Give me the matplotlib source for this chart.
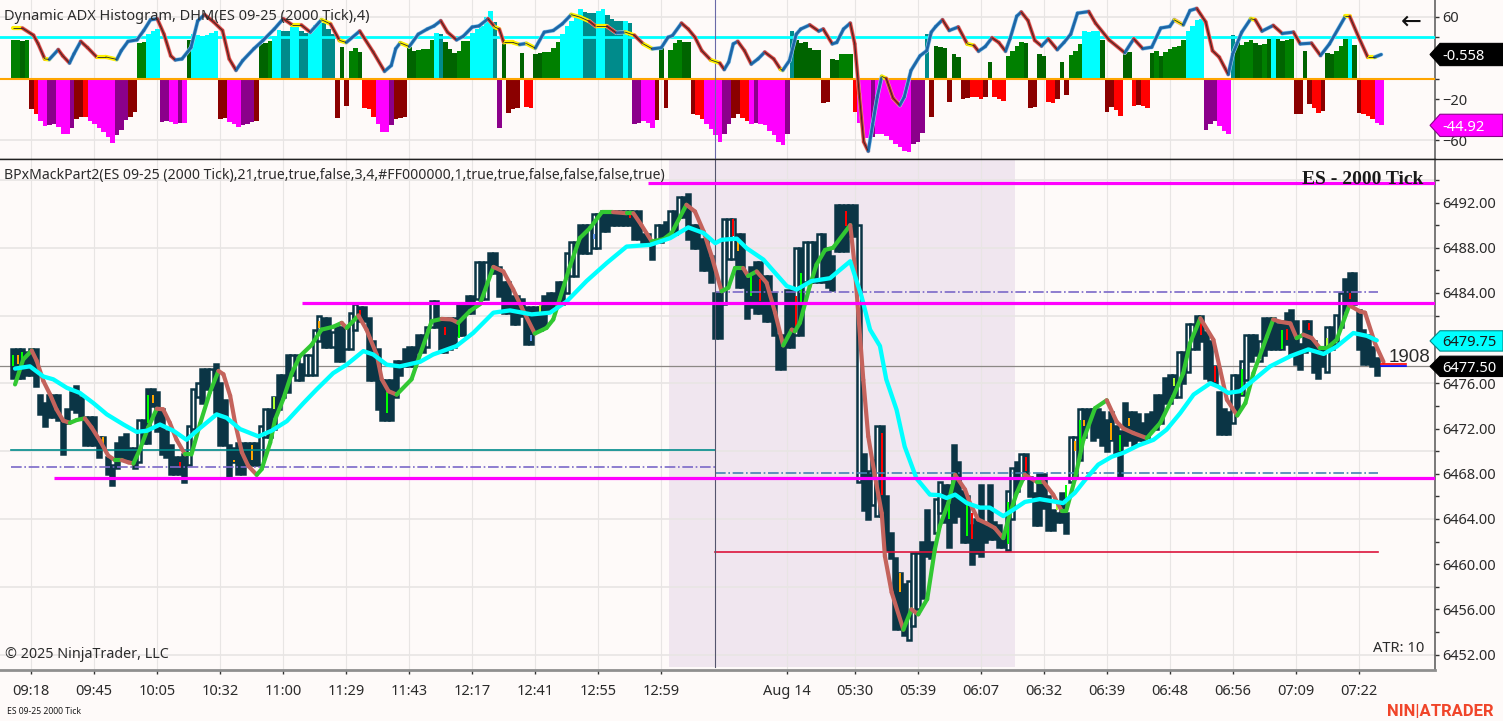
import numpy as np
import matplotlib
matplotlib.use("Agg")
import matplotlib.pyplot as plt
from matplotlib.collections import LineCollection
from matplotlib.patches import Polygon
from matplotlib.transforms import blended_transform_factory
from matplotlib.ticker import FixedLocator, NullFormatter

W, H = 1503, 721
BG = "#FEFAF9"
GRID = "#E8E5E4"
AXIS = "#8F8F8F"
TXT = "#2B2B2B"
plt.rcParams["font.family"] = ["Noto Sans", "DejaVu Sans"]

# upper panel: histogram, one value and one colour code per bar
hist_vals = [
    37.5, 37.5, 36.5, 37, -29.5, -34, -41, -46.5, -45.5, -44.5,
    -47, -54, -54, -48.5, -39, -37, -37.5, -41, -44, -48.5,
    -52, -57, -62.5, -55, -50, -40, -37, -32.5, 34, 35.5,
    43, 46.5, 48, -42, -41.5, -42, -44, -43, -43, 37.5,
    43, 42.5, 41.5, 42.5, 44, 46, -39, -38, -42, -44,
    -47, -45.5, -44, -42, -41, 33.5, 34.5, 36, 41.5, 47,
    46, 46, 50, 50.5, 46, 44, 48, 52, 56, 54,
    48, 43, -38, 31, -27, 27, 30, 26, -28.5, -30,
    -37, -44.5, -51.5, -52, -45, -39, -38, -37.5, 31, 27,
    28, 28.5, 29, 37.5, 44.5, 43, 35, 28.5, 25, 27,
    36, 36, 44, 48, 51, 60, 66, 55, -48.5, 35,
    -33.5, -29.5, -29, 25, -28, -29, 24, 24.5, 25.5, 26,
    30, 35, 43, 51, 56, 62, 67, 65, 64, 64,
    66, 67, 62, 58, 56, 56, 56, 54, -44.5, -43,
    -41, -43, -48, -40, 29.5, -29, 28, 34.5, 37, 35,
    35, -34, -35, -39, -44.5, -49.5, -54.5, -61.5, -53.5, -44.5,
    -38, -34, -38, -41, -44.5, -43, -44.5, -45.5, -50.5, -55,
    -62, -65, -53.5, 46, 37, 34.5, 35, 29.5, 28, 28,
    -24, -22.5, 18.5, 17.5, 24, 24, 24, -32.5, -43, -57.5,
    -57.5, -57, -53.5, -54, -56, -60, -63.5, -66.5, -70, -71,
    -64, -62, -53, 43, -37, 32, 31, 29.5, -23, 24,
    21, -20, -19, -17.5, -18, -20, -18, 16.5, -18, -20,
    -22, 21.5, 27, 32, 35, 34.5, -29, -28, 23.5, 21.5,
    -22.5, -23.5, -20, 16, -16.5, 22.5, 27, 33.5, 46, 45.5,
    46, 46.5, 37.5, -32.5, -28, -31, -36.5, 25.5, 25.5, -27,
    -25.5, -27, -29, 25, 27, 21.5, 25.5, 28.5, 30.5, 32,
    37.5, 46, 51, 57, 58, -50, -44.5, -41.5, -46.5, -51,
    -53.5, 42.5, 35, 32.5, 35, 37, 34.5, 33, 33.5, 38,
    41, 38, 36, 37.5, 38, -34, -34, 27, -24.5, -29,
    -33.5, -31.5, 25, 24, 27, 32, 38, 38.5, 33, -33.5,
    -34, -36.5, -39, -43, -45.5,
]
hist_codes = (
    "ggGgDRMMPP" "MMMPDDRMMM" "MMMPPPDDgg" "CCCPPMMPMG" "CCCCCCDDMM"
    "MPPPDGGgCC" "TTCCTTCCCT" "TTDGDggGRR" "RMMMPDDDGG" "ggggCTGGGg"
    "ggCCCCCTPG" "DDDGRRGGgg" "ggCCCCCTTT" "CCTTTTCTPP" "MMMDGDgggG"
    "GDRRMMMMPP" "DDRRMPMMMM" "MMPTGGGGGG" "DDGGgggRMM" "MPMMMMMMMM"
    "PPPTDGGGDG" "GDDRRRDGRR" "RggggGDDGG" "RRDGDgggCC" "CCGDDRRGGR"
    "DRRGgGgggg" "gCCCCPPPMM" "MTGgggGGgG" "CGGggDDGDR" "RDGGgggCGD"
    "RRRMM"
)
hist_palette = {"g": "#008000", "G": "#006400", "C": "#00FFFF", "T": "#008B8B",
                "R": "#FF0000", "D": "#8B0000", "M": "#FF00FF", "P": "#8B008B"}

# upper panel: signal line read at its turning points
adx_bars = [
    0, 2, 4.5, 5.5, 7, 8, 10, 11, 12.5, 13.5, 15, 16.5, 18.5, 20.5, 23, 24, 25.5, 27.5, 29, 30.5,
    32, 33.5, 35, 36, 37.5, 39.5, 41, 42.5, 44.5, 46.5, 48, 49.5, 51, 53.5, 55.5, 58, 60, 62, 64, 66,
    68.5, 70.5, 72.5, 74, 77, 80, 82.5, 84, 85, 86, 88, 90, 92, 93.5, 95, 96.5, 98.5, 100, 102, 103.5,
    105.5, 107, 108, 109, 111, 112.5, 114, 116, 118, 120, 122, 124, 126, 128, 129.5, 132, 134, 136, 138, 140,
    142, 144, 145.5, 146.5, 148.5, 150, 151.5, 153, 155, 157, 158, 159, 160, 161, 162.5, 164, 165.5, 167, 169, 170.5,
    171, 172.5, 174, 175, 177, 179, 180, 182, 183, 184.5, 186, 187, 188, 189, 190, 191, 192, 193, 194, 195.5,
    197, 198, 199.5, 201.5, 203, 204, 205, 206.5, 208, 210, 212, 213.5, 214.5, 216, 217.5, 219, 220.5, 221.5, 223, 224,
    225.5, 227, 228.5, 230, 232, 233.5, 235, 236.5, 239, 240.5, 243.5, 247, 249, 251, 253, 255, 257, 258, 260, 261.5,
    263, 265, 266.5, 268, 270, 271, 273, 275, 276, 277.5, 280, 282, 284.5, 286, 288.5, 290.5, 292.5, 296, 297, 299,
    301, 302.5, 304,
]
adx_vals = [
    49, 49, 42, 34, 19, 18.5, 28, 22, 15, 24, 36, 30, 21, 21, 18.5, 27, 36, 37.5, 46.6, 57,
    58, 43, 22, 18, 19, 30, 56, 62, 55, 46.6, 19, 8, 17.5, 29, 37, 48, 58, 52, 52, 45,
    57, 53, 37, 35, 46, 25.6, 7, 12.6, 29, 34.6, 31, 43, 48, 51, 56, 45, 37.5, 41, 50, 51,
    58, 50, 48, 35, 35, 33, 34, 29.5, 45, 46.6, 53, 62, 59.5, 55.6, 50.5, 50.5, 44.3, 45, 42, 33.6,
    28.8, 29.8, 40, 41.7, 53.7, 48, 40, 27, 18, 15, 8.7, 16, 33.6, 36, 27, 14, 19, 25.6, 19, 9,
    8, 17.5, 43, 48, 52, 46, 48, 33.6, 35, 48, 53.7, 33.6, -15, -61.5, -70.5, -44, -18, 2, 0, -19,
    -26, -18, 7.8, 22, 27, 45, 50.5, 57, 46.6, 50, 33.6, 32, 26.5, 31, 39.5, 35, 26.5, 38.5, 60.5, 64.5,
    56.3, 37, 31.5, 38.5, 28, 35, 43, 63.4, 65, 53.7, 37.5, 25, 38.5, 29, 30.4, 49, 50.5, 57, 52, 66,
    68, 54.8, 27, 20.7, 4, 24, 45, 58, 57, 46, 51.5, 43.7, 45, 33.6, 34.3, 22.3, 33.6, 60.2, 60.2, 40,
    20.7, 20.7, 23.3,
]

# candles: top and bottom of each drawn block
bar_top = [
    6479, 6479, 6479, 6478.75, 6479, 6479, 6475, 6474.25, 6475, 6475,
    6475, 6472.75, 6473.75, 6475.25, 6475.75, 6474.75, 6473, 6473, 6473, 6471.25,
    6471.25, 6469.5, 6468.75, 6470.75, 6471.25, 6471.5, 6470.25, 6470.25, 6472.75, 6472.75,
    6475.5, 6475.5, 6475.25, 6473.75, 6471.75, 6470.5, 6469.5, 6469.5, 6469.75, 6472.25,
    6475.5, 6476, 6477.25, 6477.25, 6477.25, 6477.75, 6476, 6474.5, 6470.5, 6470.25,
    6470.75, 6470.75, 6470.75, 6470.75, 6470.75, 6472.25, 6473.75, 6473.75, 6474.75, 6476.75,
    6476.75, 6478.5, 6478.5, 6478.5, 6477.75, 6478.5, 6478.5, 6480.75, 6482, 6481.75,
    6481.75, 6480.5, 6481, 6481, 6481, 6482.25, 6483, 6482.75, 6482.75, 6481.75,
    6479.75, 6479, 6476.25, 6476.25, 6476.25, 6478, 6478, 6479, 6479.25, 6479.25,
    6480.25, 6480.25, 6481, 6483.25, 6483.25, 6481.75, 6481.75, 6481.75, 6481.75, 6483,
    6483, 6483.75, 6483.75, 6486.75, 6486.75, 6486.75, 6487.5, 6487.5, 6486.25, 6485,
    6485, 6483.75, 6483.75, 6483.5, 6482.75, 6482.75, 6482.75, 6482.75, 6483.75, 6484,
    6484, 6485, 6485, 6487.5, 6488.5, 6488.5, 6490, 6490, 6490, 6491,
    6491, 6491.25, 6491.25, 6491.25, 6491.25, 6491.25, 6491.25, 6491.25, 6491.25, 6491.25,
    6489.25, 6489.25, 6488.5, 6490, 6490, 6490.25, 6491.25, 6491.25, 6492.5, 6492.5,
    6492.75, 6490, 6490, 6488.75, 6488.75, 6487.25, 6484, 6484, 6490.5, 6490.5,
    6490.5, 6489.25, 6489.25, 6485.5, 6486.25, 6486.75, 6486.75, 6485.5, 6485.5, 6484,
    6480.25, 6480.25, 6484.25, 6484.25, 6488, 6488, 6488.5, 6488.5, 6488.5, 6489.25,
    6489.25, 6488, 6487.25, 6491.75, 6491.75, 6491.75, 6491.75, 6491.75, 6490, 6469.75,
    6468.25, 6469.25, 6472.25, 6472.25, 6466, 6462.75, 6460.5, 6459.25, 6458.25, 6458.5,
    6461, 6461, 6462, 6464.75, 6462, 6465.75, 6467.25, 6467, 6467, 6470.5,
    6469, 6466.5, 6466, 6463.5, 6464, 6467, 6463.5, 6467, 6463.75, 6463.5,
    6462.5, 6466.5, 6468.5, 6469, 6469.75, 6469.75, 6467.75, 6466.25, 6468, 6468,
    6466, 6464.75, 6464.5, 6466.25, 6464.5, 6471.25, 6471.25, 6473.75, 6473.75, 6473.75,
    6473.75, 6473.75, 6473.5, 6472.75, 6473.5, 6472.25, 6471.75, 6474.25, 6473.5, 6473.5,
    6473.25, 6472.5, 6473.25, 6473.5, 6475, 6475, 6476.5, 6476.75, 6476.75, 6478.75,
    6478.75, 6481.25, 6481.25, 6482, 6482, 6480.5, 6479.75, 6477.5, 6475.25, 6473.75,
    6473.5, 6476.75, 6476.75, 6478, 6480.25, 6480.25, 6480.25, 6479.75, 6481.75, 6481.75,
    6481.75, 6481.25, 6481.5, 6482.25, 6482.5, 6481.5, 6479.5, 6481.5, 6481.5, 6479.75,
    6479, 6479, 6481, 6481, 6482, 6484, 6485.25, 6485.75, 6485.75, 6482.5,
    6480.75, 6480.25, 6479.25, 6478.25,
]
bar_bot = [
    6476.5, 6476.5, 6476.5, 6476.75, 6476.75, 6475.75, 6473.25, 6472.25, 6473, 6473,
    6472.75, 6469.75, 6472.5, 6473.75, 6473.5, 6473, 6470.5, 6470.5, 6470.5, 6469.5,
    6470.25, 6468, 6467, 6468.5, 6469.25, 6469.25, 6469.25, 6468.5, 6469, 6470.75,
    6470.75, 6474, 6471.75, 6469.75, 6469.5, 6468, 6468, 6468, 6467.25, 6468.75,
    6472, 6474.75, 6474.25, 6475.5, 6475.5, 6473.5, 6470.5, 6470.5, 6467.75, 6469,
    6468, 6468, 6469, 6468.75, 6468.75, 6468.75, 6471.25, 6471.25, 6472, 6473.75,
    6474.75, 6475.25, 6476.75, 6476.25, 6476.25, 6476.75, 6476.75, 6476.75, 6479.75, 6479.25,
    6479.25, 6479.25, 6478, 6478, 6479, 6479, 6480.75, 6481.5, 6481.5, 6476.25,
    6476.25, 6473.75, 6472.75, 6472.75, 6472.75, 6474.75, 6476.75, 6477.5, 6477.5, 6477.5,
    6478.75, 6478.75, 6479.25, 6481, 6481, 6478.75, 6478.75, 6479, 6479.25, 6480.25,
    6480.25, 6482.25, 6482.25, 6483.5, 6483.5, 6483.5, 6485.75, 6485.75, 6483.75, 6482.25,
    6482.25, 6481.25, 6481.25, 6482, 6479.5, 6479.5, 6480.75, 6480.75, 6481, 6482.5,
    6482.5, 6483, 6483, 6484, 6485.5, 6485.5, 6487.5, 6487.5, 6487.5, 6488,
    6488, 6489.5, 6489.5, 6490, 6490, 6490, 6490, 6490, 6488.75, 6488.75,
    6488.5, 6488.5, 6487, 6488.5, 6488.5, 6489, 6489.25, 6489.25, 6490.75, 6490.75,
    6488.75, 6488, 6488, 6486, 6486, 6485, 6480, 6480, 6483, 6487,
    6487, 6484.5, 6484.5, 6481.75, 6482.75, 6482.25, 6482.25, 6481.5, 6481.5, 6480.25,
    6477.25, 6477.25, 6479.25, 6479.25, 6480.25, 6480.25, 6485, 6485, 6485, 6485,
    6485, 6484.5, 6484.25, 6487.75, 6487.75, 6487.75, 6489, 6489, 6467.25, 6464.75,
    6464, 6465.25, 6464.25, 6464.25, 6461.25, 6460.5, 6454.25, 6454.25, 6453.75, 6453.25,
    6454.5, 6456, 6457, 6460.75, 6460.5, 6462.75, 6464.5, 6463.75, 6461.5, 6463.75,
    6464.25, 6462, 6462, 6460, 6461, 6460.75, 6462, 6462.25, 6462.25, 6461.5,
    6461.5, 6461.25, 6464, 6466.5, 6467.5, 6467.75, 6466, 6463.5, 6463.5, 6465,
    6463, 6463, 6463.75, 6463.75, 6462.75, 6467.25, 6467.75, 6469.25, 6471.25, 6472.5,
    6471, 6471.25, 6470.5, 6470, 6471, 6469.75, 6467.75, 6470.5, 6471, 6470.5,
    6471, 6471, 6471.25, 6472, 6472, 6472.5, 6474.25, 6474.25, 6474.75, 6474.75,
    6476, 6477, 6479, 6479, 6479.75, 6476.5, 6476.25, 6476, 6471.5, 6471.5,
    6471.5, 6472.5, 6473.5, 6475, 6476.25, 6478, 6478.5, 6478, 6478.5, 6479,
    6479, 6479, 6479, 6479.5, 6478.5, 6477.75, 6477.25, 6478.75, 6479, 6477,
    6476.5, 6477.5, 6477, 6479, 6479.5, 6481, 6482.5, 6483, 6483, 6479,
    6477.75, 6477.75, 6477.5, 6476.75,
]
up_bars = [28, 39, 40, 41, 44, 55, 56, 62, 63, 65, 66, 67, 68, 71, 74, 75, 76, 92, 93, 103, 105, 123, 124, 125, 128,
           129, 130, 143, 146, 148, 158, 159, 160, 174, 176, 177, 179, 188, 191, 192, 199, 200, 201, 205, 206, 221,
           222, 224, 235, 236, 237, 259, 261, 262, 271, 273, 274, 277, 292, 294, 295]

# small coloured inner bars
accent_bars = [0, 1, 2, 20, 30, 31, 37, 49, 53, 58, 68, 77, 83, 96, 99, 115, 117, 129, 137, 160, 161, 164, 166,
               174, 175, 185, 193, 197, 208, 212, 213, 221, 225, 232, 234, 236, 237, 238, 244, 246, 248, 258,
               264, 267, 273, 282, 283, 288, 292, 297]
accent_top = [6478.5, 6478.5, 6478.75, 6471.25, 6475, 6475, 6469, 6469.25, 6470.5, 6474.75, 6481.5, 6482.5, 6475.25,
              6481, 6481.4, 6480.25, 6483, 6489.25, 6491, 6490.5, 6488.5, 6485.5, 6485.2, 6483.75, 6485.75, 6491.25,
              6471.6, 6459.25, 6465.25, 6465.4, 6464.5, 6465.5, 6469.5, 6465.4, 6467, 6470.85, 6472.75, 6472.75,
              6472.5, 6471.45, 6472.9, 6476.45, 6481.45, 6477.5, 6477.3, 6480.7, 6480.8, 6481.3, 6480, 6484]
accent_bot = [6477.5, 6477.75, 6477.5, 6470.5, 6472.5, 6474.25, 6468.5, 6469, 6469.25, 6473.75, 6480.9, 6482, 6473.4,
              6480.25, 6480, 6479.75, 6482.25, 6488.75, 6490.6, 6489, 6487.75, 6483.75, 6483.25, 6480.75, 6483, 6489.9,
              6466.15, 6457.5, 6464, 6462.5, 6462.2, 6461.75, 6468.2, 6464.8, 6465.85, 6470, 6469.5, 6472.2,
              6471, 6470, 6472.2, 6475.8, 6480.3, 6476.15, 6475, 6479, 6479.85, 6480.7, 6479.1, 6483.5]
accent_cols = ["#00FF00", "#FFA500", "#00FF00", "#FFA500", "#00FF00", "#FFA500", "#FF0000", "#FFA500", "#FFA500", "#ADFF2F",
               "#FFA500", "#FF0000", "#00FF00", "#FF0000", "#00FF00", "#6495ED", "#ADFF2F", "#6495ED", "#FF0000", "#FF0000",
               "#FFA500", "#00FF00", "#FF0000", "#FF0000", "#00FF00", "#FF0000", "#FF0000", "#FFA500", "#00FF00", "#00FF00",
               "#FF0000", "#00FF00", "#FF0000", "#ADFF2F", "#00FF00", "#FFA500", "#00FF00", "#FFA500", "#FFA500", "#00FF00",
               "#FFA500", "#ADFF2F", "#FF0000", "#FF0000", "#00FF00", "#00FF00", "#FF0000", "#FF0000", "#ADFF2F", "#FF0000"]

# trend line, green when rising and red when falling
trend_bars = [
    0.4, 2.2, 4.1, 5.2, 6.7, 8.2, 9.6, 11.1, 12.6, 14.1, 15.9, 17.4, 19.3, 21.1, 22.6, 24.1, 25.6, 26.7, 28.2, 30,
    31.9, 33.3, 34.8, 36.3, 38.2, 39.6, 41.5, 43.7, 45.6, 46.7, 48.2, 49.3, 50.8, 52.2, 54.1, 55.2, 57.1, 58.2, 60, 61.9,
    63.7, 66.3, 68.5, 71.1, 73, 74.1, 76.7, 78.5, 80.8, 81.9, 83.4, 85.2, 88.5, 90.4, 93, 95.2, 97.4, 98.9, 101.5, 103.7,
    106.7, 108.9, 111.1, 113, 115.9, 118.5, 120, 121.5, 123.7, 125.9, 128.2, 130.8, 133.3, 136.3, 137.8, 139.6, 141.9, 144.5, 146.3, 149.6,
    151.5, 153.4, 155.2, 157.4, 158.9, 160.4, 162.2, 163.3, 165.2, 167.4, 169.3, 171.1, 173, 173.7, 174.8, 177, 178.5, 180.4, 182.2, 186,
    187, 188.9, 190, 191.5, 193, 193.7, 195.2, 197.8, 199.6, 201.1, 203.1, 204.8, 205.9, 207.8, 209.3, 211.5, 212.6, 214.4, 216.3, 218.1,
    220, 221.5, 223, 224.8, 227.4, 228.9, 231.1, 233, 234, 235.9, 237.8, 240.4, 243, 245.2, 246.7, 248.9, 251.9, 254.9, 257.8, 260,
    261.5, 263.8, 266.7, 268.2, 269.7, 272, 273.8, 275.6, 278.6, 280, 281.5, 283.8, 285.2, 286.7, 288.6, 290.4, 291.9, 294.1, 296.9, 299.3,
    300.4, 302.6, 304.5,
]
trend_vals = [
    6475.9, 6478.1, 6478.9, 6478, 6476.2, 6475, 6473.7, 6472.7, 6472.5, 6472.75, 6472.9, 6472.1, 6470.9, 6469.6, 6469.2, 6469.2, 6469, 6468.9, 6470.2, 6472.1,
    6473.75, 6473.7, 6472.5, 6471, 6469.7, 6469.7, 6472.4, 6475.2, 6477.1, 6476.8, 6474.9, 6472.5, 6469.9, 6468.7, 6467.9, 6468.4, 6470.75, 6472.8, 6474.6, 6476.9,
    6478.4, 6479.4, 6480.75, 6481, 6481.35, 6480.9, 6482, 6480.75, 6478.5, 6476.35, 6475.3, 6475, 6476.35, 6478.55, 6481.5, 6481.7, 6481.65, 6481.35, 6482.4, 6483,
    6486.3, 6485.9, 6484.3, 6482.7, 6480.4, 6480.9, 6481.65, 6483.55, 6486.35, 6488.85, 6489.75, 6491.15, 6491.15, 6491.05, 6491.05, 6490, 6488.55, 6488.75, 6489.3, 6491.8,
    6491.2, 6489.45, 6487.25, 6484.15, 6484.45, 6486.2, 6486.2, 6485.5, 6485.9, 6484.9, 6482.25, 6479.35, 6480.75, 6480.6, 6481.35, 6484.6, 6486.5, 6487.8, 6488, 6490,
    6486.35, 6476.3, 6471.3, 6467.75, 6464.5, 6460.7, 6457.5, 6454.2, 6456, 6455.55, 6456.9, 6461.3, 6463.35, 6465.4, 6467.9, 6466.6, 6465.4, 6463.95, 6463.6, 6463.2,
    6462.3, 6464.5, 6466.3, 6467.9, 6467.3, 6467.3, 6466.15, 6464.7, 6464.7, 6467.5, 6471, 6473.8, 6474.5, 6472.6, 6472, 6471.6, 6471.15, 6472.5, 6474.85, 6476.9,
    6479.55, 6481.75, 6479.85, 6477.2, 6474.55, 6473.15, 6474.25, 6476.9, 6480.15, 6481.65, 6481.45, 6481.3, 6480, 6480.3, 6480, 6479.1, 6479.1, 6479.85, 6482.9, 6482.35,
    6482.25, 6479.55, 6477.9,
]

# slow cyan average
avg_bars = [
    0.4, 3.7, 6.7, 8.9, 11.9, 14.8, 17.8, 20.8, 24.5, 27.4, 29.7, 32.6, 35.6, 38.5, 40.8, 45.2, 47.4, 50.4, 54.5, 57.4,
    60.8, 64.5, 67.4, 71.1, 74.1, 77.8, 80, 83, 85.9, 90.4, 93.3, 98.5, 102.2, 106.7, 110.4, 115.2, 119.3, 123, 127.4, 131.9,
    136.3, 141.5, 146, 150, 153.4, 156, 157.4, 160.8, 163, 166.7, 171.9, 174.1, 177.4, 181.5, 186, 188.5, 190.4, 192.6, 194, 196.3,
    198.1, 200.7, 203.7, 205.9, 207.4, 209.3, 211.9, 214.8, 217, 220, 222.2, 224.8, 228.1, 231.1, 233.3, 235.9, 238.5, 241.1, 244.1, 246.7,
    250, 253.4, 256.3, 259.3, 262.3, 266, 267.8, 270, 272.6, 275.2, 279.3, 283.8, 287.8, 291.2, 294.1, 297.8, 300.8, 303,
]
avg_vals = [
    6477.3, 6477.5, 6476.6, 6476.35, 6475.6, 6475.15, 6474.25, 6473.25, 6472.35, 6471.7, 6471.8, 6472.35, 6471.8, 6471, 6471.8, 6473.25, 6472.95, 6471.95, 6471.3, 6471.8,
    6472.65, 6474.25, 6475.45, 6476.9, 6477.65, 6478.85, 6478.55, 6477.65, 6477.5, 6477.9, 6478.55, 6479.3, 6480.45, 6482.25, 6482.45, 6482.1, 6482.25, 6483.25, 6485.05, 6486.65,
    6488.1, 6488.25, 6488.85, 6489.8, 6489.3, 6488.4, 6488.7, 6488.8, 6487.95, 6486.95, 6484.6, 6484.3, 6485.05, 6485.3, 6486.8, 6483.7, 6480.75, 6479.3, 6476.35, 6473.65,
    6470.4, 6467.6, 6466.15, 6466.1, 6465.85, 6466.15, 6465.4, 6465, 6465, 6464.25, 6464.8, 6465.5, 6465.75, 6465.55, 6465.4, 6466.3, 6467.6, 6468.8, 6469.5, 6469.85,
    6470.5, 6471, 6471.9, 6473.35, 6475, 6476, 6475.7, 6475.15, 6475.3, 6476.15, 6477.5, 6478.4, 6479, 6478.6, 6479.25, 6480.45, 6480.2, 6479.8,
]

# horizontal levels
magenta_levels = [6493.7, 6483.15, 6467.6]
magenta_starts = [141, 64.2, 9]
thin_levels = [6470.1, 6468.6, 6468.1, 6484.1, 6461.1]
thin_starts = [-0.5, -0.5, 156, 156, 156]
thin_ends = [156, 156, 303.2, 303.2, 303.2]
thin_cols = ["#008B8B", "#7B68C8", "#4682B4", "#7B68C8", "#DC143C"]
thin_styles = ["-", "-.", "-.", "-.", "-"]
last_price = 6477.5
avg_tag = 6479.75

# time axis
tick_bars = [4, 18, 32, 46, 60, 74, 88, 102, 116, 130, 144, 172, 187, 201, 215, 229, 243, 257, 271, 285, 299]
tick_labels = ["09:18", "09:45", "10:05", "10:32", "11:00", "11:29", "11:43", "12:17", "12:41", "12:55", "12:59",
               "Aug 14", "05:30", "05:39", "06:07", "06:32", "06:39", "06:48", "06:56", "07:09", "07:22"]
price_major = [6452, 6456, 6460, 6464, 6468, 6472, 6476, 6484, 6488, 6492]
# 6480 sits behind the cyan tag, so it only gets a tick
price_minor = [6450 + 2 * k for k in range(1, 23) if (6450 + 2 * k) not in price_major]
price_grid = [6452, 6458, 6464, 6470, 6476, 6482, 6488, 6494]
adx_major = [60, -20, -60]
adx_minor = [40, 20, 0, -40]
shade_start, shade_end = 145.7, 222.6
cursor_bar = 155.9

X_RIGHT = 1434.7
XLIM = (-13.25 / 4.5, (X_RIGHT - 13.25) / 4.5)

fig = plt.figure(figsize=(W / 100, H / 100), dpi=100, facecolor=BG)
ax_adx = fig.add_axes([0, 1 - 159 / H, X_RIGHT / W, 159 / H], facecolor=BG)
ax_px = fig.add_axes([0, 1 - 670 / H, X_RIGHT / W, 510 / H], facecolor=BG)


def color_by_slope(ax, xs, ys, up_col, down_col, lw, z):
    pts = np.column_stack([xs, ys])
    segs = np.stack([pts[:-1], pts[1:]], axis=1)
    cols = [up_col if b >= a else down_col for a, b in zip(ys[:-1], ys[1:])]
    ax.add_collection(LineCollection(segs, colors=cols, linewidths=lw, capstyle="round", zorder=z))


# ---- upper panel
bars = np.arange(len(hist_vals))
ax_adx.bar(bars, hist_vals, width=1.0, color=[hist_palette[c] for c in hist_codes], linewidth=0, zorder=2)
for gv in [60, -60]:
    ax_adx.axhline(gv, color=GRID, lw=1.2, zorder=1)
for tb in tick_bars:
    ax_adx.axvline(tb, color=GRID, lw=0.8, zorder=1)
ax_adx.axhline(40, color="#00FFFF", lw=2.0, zorder=3)
ax_adx.axhline(0, color="#FFA500", lw=1.5, zorder=3)
ax_adx.axvline(cursor_bar, color="#6A6AA8", lw=0.8, zorder=3)

adx_x = np.array(adx_bars)
adx_y = np.array(adx_vals, dtype=float)
# slow falling stretches show yellow, steep ones red, rising ones blue
slopes = np.diff(adx_y) / np.diff(adx_x)
seg_pts = np.column_stack([adx_x, adx_y])
segs = np.stack([seg_pts[:-1], seg_pts[1:]], axis=1)
seg_cols = ["#1F6FB2" if s > 0 else ("#C8302C" if s < -2.5 else "#FFF200") for s in slopes]
halo_cols = ["#A8D4F0" if s > 0 else "#FFF200" if s > -2.5 else "#E8A0A0" for s in slopes]
ax_adx.add_collection(LineCollection(segs, colors=halo_cols, linewidths=3.0, capstyle="round", zorder=4))
ax_adx.add_collection(LineCollection(segs, colors=seg_cols, linewidths=2.2, capstyle="round", zorder=5))
ax_adx.add_collection(LineCollection(segs, colors=["#2A2A2A" if s <= 0 else "#1F5F9A" for s in slopes],
                                     linewidths=0.6, zorder=6))

ax_adx.set_xlim(*XLIM)
ax_adx.set_ylim((78.5 - 159) / 1.03, 78.5 / 1.03)
ax_adx.set_xticks([])

# ---- price panel
ax_px.axvspan(shade_start, shade_end, ymin=3 / 510, ymax=1, color="#F0E6EF", lw=0, zorder=0)
for gv in price_grid:
    ax_px.axhline(gv, color=GRID, lw=1.2, zorder=1)
for tb in tick_bars:
    ax_px.axvline(tb, color=GRID, lw=0.8, zorder=1)

ax_px.axhline(last_price, color="#8C8885", lw=0.9, zorder=2)
ax_px.axvline(cursor_bar, ymin=3 / 510, color="#55556E", lw=0.8, zorder=6)

bar_top_a = np.array(bar_top)
bar_bot_a = np.array(bar_bot)
candle_x = np.arange(len(bar_top))
DARK = "#0B3545"
is_up = np.isin(candle_x, up_bars)
# filled bars first so the hollow ones stay readable on top
ax_px.bar(candle_x[~is_up], (bar_top_a - bar_bot_a)[~is_up], bottom=bar_bot_a[~is_up], width=0.9, color=DARK,
          edgecolor=DARK, linewidth=1.8, zorder=3)
ax_px.bar(candle_x[is_up], (bar_top_a - bar_bot_a)[is_up], bottom=bar_bot_a[is_up], width=0.9, color="#FFFFFF",
          edgecolor=DARK, linewidth=1.8, zorder=3)
ax_px.bar(accent_bars, np.array(accent_top) - np.array(accent_bot), bottom=accent_bot, width=0.42,
          color=accent_cols, linewidth=0, zorder=4)

for lv, st, en, c, ls in zip(thin_levels, thin_starts, thin_ends, thin_cols, thin_styles):
    ax_px.plot([st, en], [lv, lv], color=c, lw=1.2, ls=ls, zorder=5)

color_by_slope(ax_px, np.array(trend_bars), np.array(trend_vals), "#32C832", "#C4635C", 3.0, 7)
ax_px.plot(avg_bars, avg_vals, color="#00FFFF", lw=3.1, solid_capstyle="round", zorder=8)

for lv, st in zip(magenta_levels, magenta_starts):
    ax_px.plot([st, XLIM[1]], [lv, lv], color="#FF00FF", lw=2.3, zorder=9, solid_capstyle="butt")

# bid/ask stubs next to the last bar
ax_px.plot([304, 309.5], [last_price + 0.25, last_price + 0.25], color="#FF0000", lw=1.2, zorder=9)
ax_px.plot([304, 309.5], [last_price, last_price], color="#0000FF", lw=1.2, zorder=9)

ax_px.set_xlim(*XLIM)
ax_px.set_ylim(6452 + (654.5 - 670) / 11.3, 6452 + (654.5 - 160) / 11.3)
ax_px.set_xticks(tick_bars)
ax_px.set_xticklabels(tick_labels)
ax_px.tick_params(axis="x", length=3, width=1, color="#333333", labelsize=10.5, labelcolor=TXT, pad=7)

# ---- axes furniture shared by the two panels
for ax in (ax_adx, ax_px):
    for side in ["top", "left"]:
        ax.spines[side].set_visible(False)
    ax.spines["right"].set_color("#555555")
    ax.spines["right"].set_linewidth(1.1)
    ax.yaxis.tick_right()
    ax.yaxis.set_minor_locator(FixedLocator(price_minor if ax is ax_px else adx_minor))
    ax.yaxis.set_minor_formatter(NullFormatter())
    ax.tick_params(axis="y", which="both", length=3, width=1, color="#333333",
                   labelsize=10.5, labelcolor=TXT, pad=2.5)
ax_adx.set_yticks(adx_major)
ax_px.set_yticks(price_major)
ax_px.set_yticklabels([f"{v:.2f}" for v in price_major])
ax_adx.spines["bottom"].set_color("#222222")
ax_adx.spines["bottom"].set_linewidth(1.0)
ax_px.spines["bottom"].set_color(AXIS)
ax_px.spines["bottom"].set_linewidth(2.0)

# separator carries on past the price scale
fig.add_artist(plt.Line2D([0, 1], [1 - 159 / H, 1 - 159 / H], color="#222222", lw=1.0))


def tag(ax, yval, half, fill, edge, label, txtcol):
    trans = blended_transform_factory(fig.transFigure, ax.transData)
    x0, x1, x2 = 1430 / W, 1440 / W, 1503 / W
    poly = Polygon([(x0, yval), (x1, yval + half), (x2, yval + half), (x2, yval - half), (x1, yval - half)],
                   closed=True, transform=trans, facecolor=fill, edgecolor=edge, lw=0.8, clip_on=False, zorder=20)
    ax.add_patch(poly)
    ax.text(1442 / W, yval, label, transform=trans, color=txtcol, fontsize=10.6, va="center_baseline", ha="left",
            zorder=21, clip_on=False)


tag(ax_adx, adx_vals[-1], 10.8, "#000000", "#000000", "-0.558", "#FFFFFF")
tag(ax_adx, hist_vals[-1], 10.8, "#FF00FF", "#8B008B", "-44.92", "#FFFFFF")
tag(ax_px, avg_tag, 0.9, "#00FFFF", "#008B8B", "6479.75", "#1A1A1A")
tag(ax_px, last_price, 0.9, "#000000", "#000000", "6477.50", "#FFFFFF")


def ptext(x, y, s, **kw):
    fig.text(x / W, 1 - y / H, s, va="center", zorder=30, **kw)


ptext(4, 16, "Dynamic ADX Histogram, DHM(ES 09-25 (2000 Tick),4)", fontsize=10.5, color=TXT)
ptext(4, 176, "BPxMackPart2(ES 09-25 (2000 Tick),21,true,true,false,3,4,#FF000000,1,true,true,false,false,false,true)",
      fontsize=10.15, color=TXT)
ptext(5, 654, "© 2025 NinjaTrader, LLC", fontsize=10.3, color=TXT)
ptext(1424, 649, "ATR: 10", fontsize=10.6, color=TXT, ha="right")
ptext(7, 711, "ES 09-25 2000 Tick", fontsize=6.2, color="#1A1A1A")
ptext(1387, 711, "NIN|ATRADER", fontsize=12, color="#F0452A", fontweight="bold", family="Roboto")
ptext(1302, 179, "ES - 2000 Tick", fontsize=14, color="#1A1A1A", fontweight="bold", family="Liberation Serif")
ptext(1389, 357, "1908", fontsize=13.5, color="#2B2B2B", family="Liberation Sans")
ptext(1401, 22, "←", fontsize=18, color="#111111", family="DejaVu Sans")

fig.savefig("out.png", dpi=100, facecolor=BG)
